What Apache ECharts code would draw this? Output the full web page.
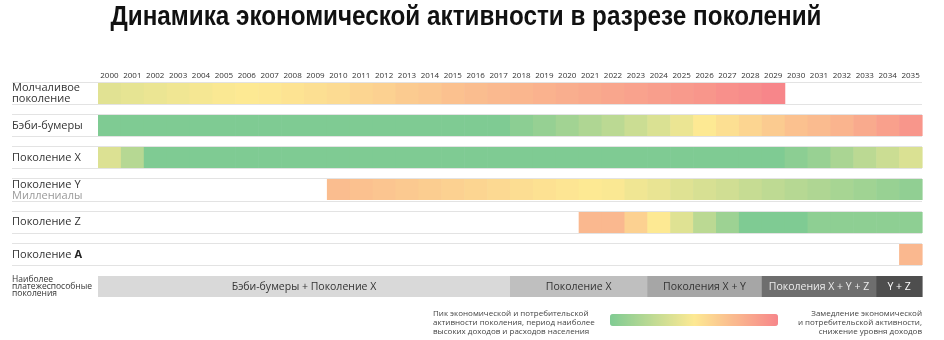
<!DOCTYPE html>
<html><head><meta charset="utf-8">
<script src="https://cdn.jsdelivr.net/npm/echarts@6/dist/echarts.min.js"></script>
<style>html,body{margin:0;padding:0;background:#fff}#c{width:944px;height:340px}</style>
</head><body><div id="c"></div>
<script>
const years = ['2000','2001','2002','2003','2004','2005','2006','2007','2008','2009','2010','2011','2012','2013','2014','2015','2016','2017','2018','2019','2020','2021','2022','2023','2024','2025','2026','2027','2028','2029','2030','2031','2032','2033','2034','2035'];
const rowLabels = ['Молчаливое\nпоколение','Бэби-бумеры','Поколение X','Поколение Y','Поколение Z','Поколение A','Наиболее\nплатежеспособные\nпоколения'];
const rowSubLabels = ['', '', '', 'Миллениалы', '', '', ''];

// 0 = пик активности (зелёный), 1 = замедление (красный)
const silentStart = '2000';
const silentValues = [0.39,0.41,0.43,0.45,0.47,0.49,0.5,0.51,0.53,0.55,0.57,0.6,0.62,0.65,0.67,0.7,0.72,0.74,0.76,0.78,0.8,0.82,0.84,0.86,0.88,0.9,0.92,0.95,0.97,1.0];
const boomersStart = '2000';
const boomersValues = [0,0,0,0,0,0,0,0,0,0,0,0,0,0,0,0,0,0,0.05,0.09,0.14,0.19,0.24,0.3,0.36,0.43,0.5,0.55,0.6,0.65,0.7,0.73,0.77,0.82,0.87,0.92];
const genXStart = '2000';
const genXValues = [0.37,0.22,0,0,0,0,0,0,0,0,0,0,0,0,0,0,0,0,0,0,0,0,0,0,0,0,0,0,0,0,0.05,0.1,0.17,0.24,0.3,0.36];
const genYStart = '2010';
const genYValues = [0.72,0.7,0.68,0.66,0.64,0.62,0.6,0.58,0.56,0.54,0.52,0.5,0.49,0.45,0.42,0.38,0.35,0.32,0.28,0.25,0.22,0.19,0.16,0.13,0.1,0.07];
const genZStart = '2021';
const genZValues = [0.75,0.75,0.62,0.5,0.38,0.24,0.12,0,0,0,0.06,0.06,0.06,0.06,0.06];
const genAStart = '2035';
const genAValues = [0.75];

const segLabels = ['Бэби-бумеры + Поколение X','Поколение X','Поколения X + Y','Поколения X + Y + Z','Y + Z'];
const segStart = ['2000','2018','2024','2029','2034'];
const segEnd = ['2017','2023','2028','2033','2035'];

const legendLeftText = 'Пик экономической и потребительской\nактивности поколения, период наиболее\nвысоких доходов и расходов населения';
const legendRightText = 'Замедление экономической\nи потребительской активности,\nснижение уровня доходов';
const titleText = 'Динамика экономической активности в разрезе поколений';

// styles
const segFill = ['#d9d9d9','#bfbfbf','#a6a6a6','#6e6e6e','#4e4e4e'];
const segText = ['#333','#333','#333','#ececec','#ffffff'];
const FONT = '"Open Sans", Roboto, sans-serif';

const rows = [
  [silentStart, silentValues],
  [boomersStart, boomersValues],
  [genXStart, genXValues],
  [genYStart, genYValues],
  [genZStart, genZValues],
  [genAStart, genAValues]
];
const cellData = [];
rows.forEach(([start, vals], ri) => {
  const s = years.indexOf(start);
  vals.forEach((v, i) => cellData.push([s + i, ri, v]));
});
const segData = segLabels.map((l, i) => [years.indexOf(segStart[i]), years.indexOf(segEnd[i]), 6, i]);
const lineData = rows.map((r, i) => [i]);

const CELL = 0.655;

const chart = echarts.init(document.getElementById('c'), null, {renderer: 'canvas'});
chart.setOption({
  animation: false,
  grid: {left: 98, right: 22, top: 77, height: 226},
  xAxis: {
    type: 'category', position: 'top', data: years,
    axisLine: {show: false}, axisTick: {show: false}, splitLine: {show: false},
    axisLabel: {interval: 0, fontSize: 8, color: '#333', margin: -3, fontFamily: FONT}
  },
  yAxis: {
    type: 'category', inverse: true, data: rowLabels,
    axisLine: {show: false}, axisTick: {show: false}, splitLine: {show: false},
    axisLabel: {
      align: 'left', margin: 86,
      formatter: (v, idx) => {
        if (idx === 6) return v.split('\n').map(l => '{s|' + l + '}').join('\n');
        if (v === 'Поколение A') return '{n|Поколение }{b|A}';
        let out = v.split('\n').map(l => '{n|' + l + '}').join('\n');
        if (rowSubLabels[idx]) out += '\n{g|' + rowSubLabels[idx] + '}';
        return out;
      },
      rich: {
        n: {fontSize: 11, color: '#333', fontFamily: FONT, lineHeight: 11},
        g: {fontSize: 11, color: '#9a9a9a', fontFamily: FONT, lineHeight: 11},
        b: {fontSize: 11, color: '#222', fontFamily: FONT, lineHeight: 11, fontWeight: 'bold'},
        s: {fontSize: 8.5, color: '#333', fontFamily: FONT, lineHeight: 7.2}
      }
    }
  },
  visualMap: {
    type: 'continuous', min: 0, max: 1, seriesIndex: 1, dimension: 2,
    orient: 'horizontal', left: 610, top: 314, padding: 0, itemWidth: 12, itemHeight: 168,
    calculable: false, hoverLink: false, text: null, showLabel: false,
    inRange: {color: ['#7fcb93', '#fde993', '#f7868a']}
  },
  graphic: [
    {type: 'text', x: 466, y: 3, scaleX: 0.866, silent: true,
      style: {text: titleText, font: 'bold 28px "Liberation Sans", Arial, sans-serif', fill: '#111', align: 'center', verticalAlign: 'top',
        shadowColor: 'rgba(0,0,0,0.35)', shadowOffsetX: 1, shadowOffsetY: 1, shadowBlur: 1}},
    {type: 'text', x: 433, y: 309, silent: true, style: {text: legendLeftText, font: '8px ' + FONT, fill: '#444', lineHeight: 9, align: 'left', verticalAlign: 'top'}},
    {type: 'text', x: 922, y: 309, silent: true, style: {text: legendRightText, font: '8px ' + FONT, fill: '#444', lineHeight: 9, align: 'right', verticalAlign: 'top'}}
  ],
  series: [
    {
      type: 'custom', z: 1, silent: true, data: lineData, clip: false,
      renderItem: (params, api) => {
        const c = api.coord([0, api.value(0)]);
        const sz = api.size([1, 1]);
        const h = sz[1] * CELL;
        const x0 = params.coordSys.x - 86;
        const x1 = params.coordSys.x + params.coordSys.width;
        const yt = Math.round(c[1] - h / 2) - 0.5;
        const yb = Math.round(c[1] + h / 2) + 0.5;
        return {type: 'group', children: [
          {type: 'line', shape: {x1: x0, y1: yt, x2: x1, y2: yt}, style: {stroke: '#e3e3e3', lineWidth: 1}},
          {type: 'line', shape: {x1: x0, y1: yb, x2: x1, y2: yb}, style: {stroke: '#e3e3e3', lineWidth: 1}}
        ]};
      }
    },
    {
      type: 'custom', z: 2, silent: true, data: cellData,
      encode: {x: 0, y: 1},
      renderItem: (params, api) => {
        const c = api.coord([api.value(0), api.value(1)]);
        const sz = api.size([1, 1]);
        const h = sz[1] * CELL;
        return {type: 'rect', shape: {x: c[0] - sz[0] / 2, y: Math.round(c[1] - h / 2), width: sz[0] + 0.6, height: Math.round(h)},
          style: {fill: api.visual('color')}};
      }
    },
    {
      type: 'custom', z: 2, silent: true, data: segData,
      encode: {x: [0, 1], y: 2},
      renderItem: (params, api) => {
        const a = api.coord([api.value(0), api.value(2)]);
        const b = api.coord([api.value(1), api.value(2)]);
        const sz = api.size([1, 1]);
        const h = sz[1] * CELL;
        const i = api.value(3);
        const x0 = a[0] - sz[0] / 2, x1 = b[0] + sz[0] / 2;
        return {type: 'group', children: [
          {type: 'rect', shape: {x: x0, y: Math.round(a[1] - h / 2), width: x1 - x0 + 0.6, height: Math.round(h)}, style: {fill: segFill[i]}},
          {type: 'text', style: {text: segLabels[i], x: (x0 + x1) / 2, y: a[1], align: 'center', verticalAlign: 'middle', font: '10.5px ' + FONT, fill: segText[i]}}
        ]};
      }
    }
  ]
});
</script></body></html>
